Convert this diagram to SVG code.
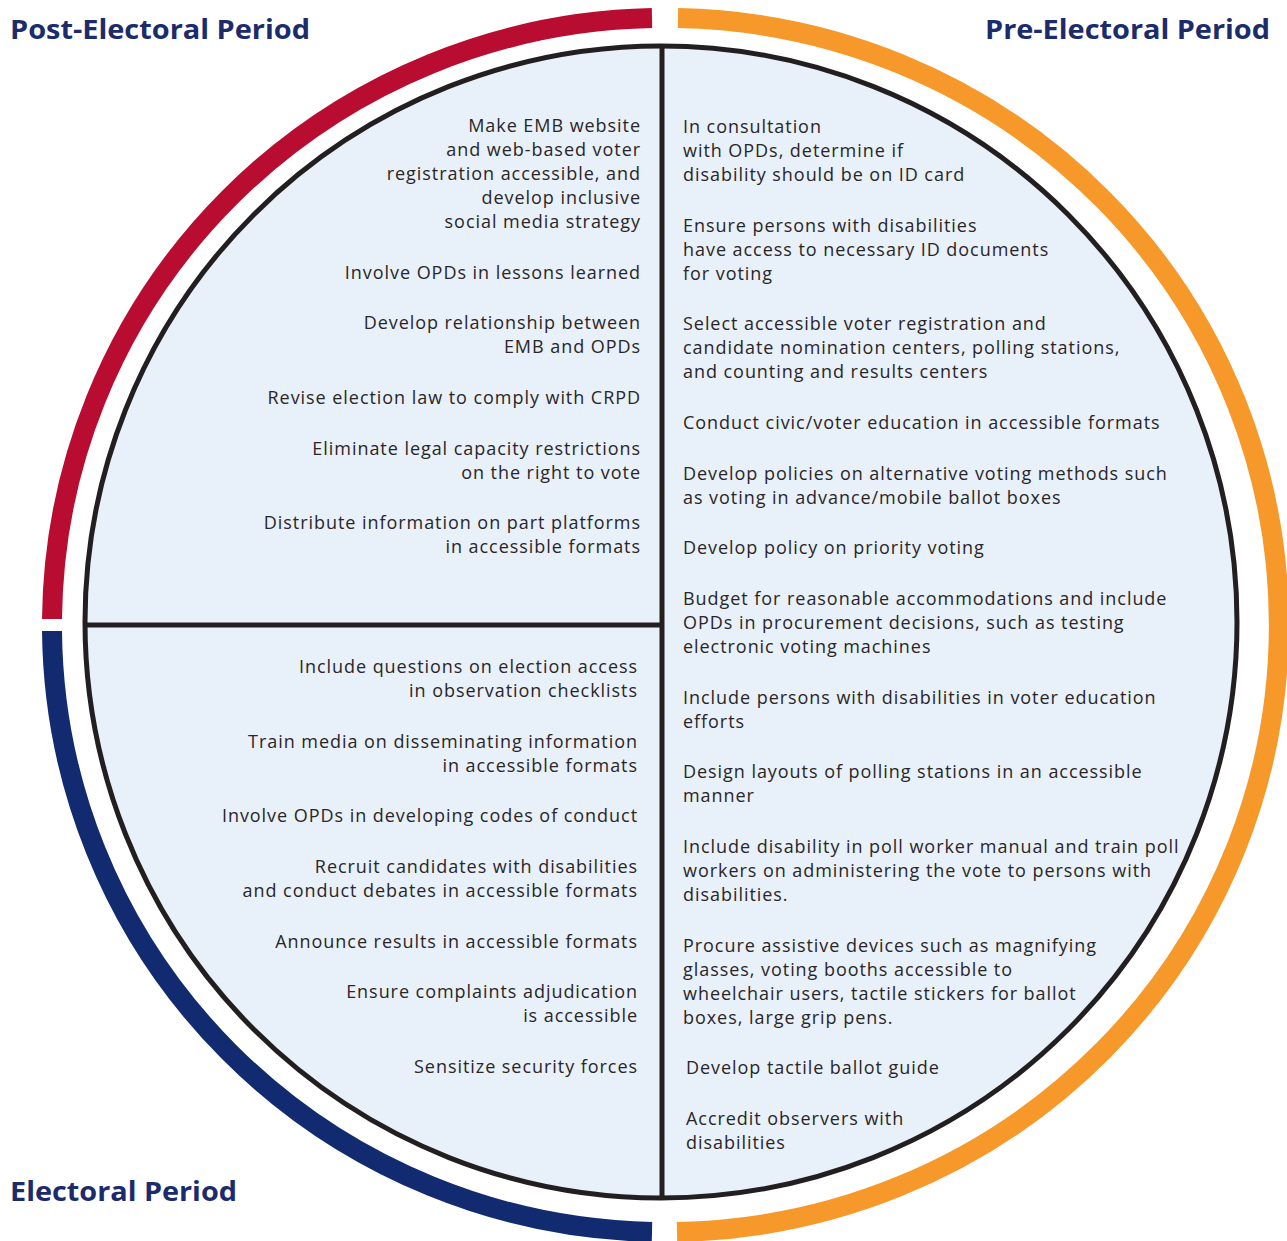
<svg xmlns="http://www.w3.org/2000/svg" width="1287" height="1241" viewBox="0 0 1287 1241">
<style>
.ring{fill:none;stroke-width:20;stroke-linecap:butt}
.t{font-family:"Open Sans","Liberation Sans",sans-serif;font-size:18px;letter-spacing:0.95px;fill:#2a2627}
.e{text-anchor:end}
.h{font-family:"Open Sans","Liberation Sans",sans-serif;font-size:26px;font-weight:bold;fill:#1b2b6c}
.ln{stroke:#231f20;stroke-width:5;fill:none}
</style>
<rect width="1287" height="1241" fill="#ffffff"/>
<g id="rings">
<path class="ring" stroke="#b80d31" d="M 52 619 A 612.5 607 0 0 1 652 18.1"/>
<path class="ring" stroke="#f7982a" d="M 678 18.1 A 612.5 607 0 0 1 677 1231.9"/>
<path class="ring" stroke="#122a6f" d="M 652 1231.9 A 612.5 607 0 0 1 52 631"/>
</g>
<g id="circle">
<circle cx="661" cy="622" r="576" fill="#e8f0fa" stroke="#231f20" stroke-width="5"/>
</g>
<g id="connectors">
<line class="ln" x1="662" y1="46" x2="662" y2="1198"/>
<line class="ln" x1="85" y1="625" x2="662" y2="625"/>
</g>
<g id="headers">
<text class="h" x="10" y="39" textLength="300" lengthAdjust="spacingAndGlyphs">Post-Electoral Period</text>
<text class="h" x="985" y="39" textLength="285" lengthAdjust="spacingAndGlyphs">Pre-Electoral Period</text>
<text class="h" x="10" y="1201" textLength="227" lengthAdjust="spacingAndGlyphs">Electoral Period</text>
</g>
<g id="post-electoral" class="t e">
<text x="641" y="132">Make EMB website</text>
<text x="641" y="156">and web-based voter</text>
<text x="641" y="180">registration accessible, and</text>
<text x="641" y="204">develop inclusive</text>
<text x="641" y="228">social media strategy</text>
<text x="641" y="279">Involve OPDs in lessons learned</text>
<text x="641" y="329">Develop relationship between</text>
<text x="641" y="353">EMB and OPDs</text>
<text x="641" y="404">Revise election law to comply with CRPD</text>
<text x="641" y="455">Eliminate legal capacity restrictions</text>
<text x="641" y="479">on the right to vote</text>
<text x="641" y="529">Distribute information on part platforms</text>
<text x="641" y="553">in accessible formats</text>
</g>
<g id="electoral" class="t e">
<text x="638" y="673">Include questions on election access</text>
<text x="638" y="697">in observation checklists</text>
<text x="638" y="748">Train media on disseminating information</text>
<text x="638" y="772">in accessible formats</text>
<text x="638" y="822">Involve OPDs in developing codes of conduct</text>
<text x="638" y="873">Recruit candidates with disabilities</text>
<text x="638" y="897">and conduct debates in accessible formats</text>
<text x="638" y="948">Announce results in accessible formats</text>
<text x="638" y="998">Ensure complaints adjudication</text>
<text x="638" y="1022">is accessible</text>
<text x="638" y="1073">Sensitize security forces</text>
</g>
<g id="pre-electoral" class="t">
<text x="683" y="133">In consultation</text>
<text x="683" y="157">with OPDs, determine if</text>
<text x="683" y="181">disability should be on ID card</text>
<text x="683" y="232">Ensure persons with disabilities</text>
<text x="683" y="256">have access to necessary ID documents</text>
<text x="683" y="280">for voting</text>
<text x="683" y="330">Select accessible voter registration and</text>
<text x="683" y="354">candidate nomination centers, polling stations,</text>
<text x="683" y="378">and counting and results centers</text>
<text x="683" y="429">Conduct civic/voter education in accessible formats</text>
<text x="683" y="480">Develop policies on alternative voting methods such</text>
<text x="683" y="504">as voting in advance/mobile ballot boxes</text>
<text x="683" y="554">Develop policy on priority voting</text>
<text x="683" y="605">Budget for reasonable accommodations and include</text>
<text x="683" y="629">OPDs in procurement decisions, such as testing</text>
<text x="683" y="653">electronic voting machines</text>
<text x="683" y="704">Include persons with disabilities in voter education</text>
<text x="683" y="728">efforts</text>
<text x="683" y="778">Design layouts of polling stations in an accessible</text>
<text x="683" y="802">manner</text>
<text x="683" y="853">Include disability in poll worker manual and train poll</text>
<text x="683" y="877">workers on administering the vote to persons with</text>
<text x="683" y="901">disabilities.</text>
<text x="683" y="952">Procure assistive devices such as magnifying</text>
<text x="683" y="976">glasses, voting booths accessible to</text>
<text x="683" y="1000">wheelchair users, tactile stickers for ballot</text>
<text x="683" y="1024">boxes, large grip pens.</text>
<text x="686" y="1074">Develop tactile ballot guide</text>
<text x="686" y="1125">Accredit observers with</text>
<text x="686" y="1149">disabilities</text>
</g>
</svg>
